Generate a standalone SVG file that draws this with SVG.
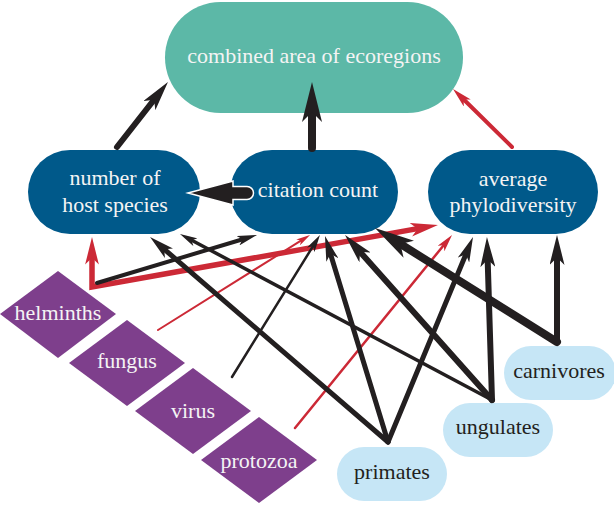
<svg xmlns="http://www.w3.org/2000/svg" width="614" height="507" viewBox="0 0 614 507">
<style>
.t{font-family:"Liberation Serif","Times New Roman",serif;font-size:22px;text-anchor:middle}
.w{fill:#f4f4f4}
.d{fill:#231f20}
.green{fill:#5cb8a7}
.blue{fill:#00598a}
.purple{fill:#7e3f8c}
.lblue{fill:#c6e6f6}
.k{fill:none;stroke:#231f20;stroke-linecap:round;stroke-linejoin:miter}
.r{fill:none;stroke:#cc2936;stroke-linecap:round;stroke-linejoin:miter}
</style>
<defs>
<marker id="ab" viewBox="0 0 10 5" refX="3" refY="2.5" markerWidth="5" markerHeight="2.5" orient="auto-start-reverse"><path d="M0,0 L10,2.5 L0,5 L2.5,2.5 Z" fill="#231f20"/></marker>
<marker id="ar" viewBox="0 0 10 5" refX="3" refY="2.5" markerWidth="5" markerHeight="2.5" orient="auto-start-reverse"><path d="M0,0 L10,2.5 L0,5 L2.5,2.5 Z" fill="#cc2936"/></marker>
<marker id="abs" viewBox="0 0 10 5" refX="3" refY="2.5" markerWidth="7" markerHeight="3.5" orient="auto-start-reverse"><path d="M0,0 L10,2.5 L0,5 L2.5,2.5 Z" fill="#231f20"/></marker>
<marker id="ars" viewBox="0 0 10 5" refX="3" refY="2.5" markerWidth="7" markerHeight="3.5" orient="auto-start-reverse"><path d="M0,0 L10,2.5 L0,5 L2.5,2.5 Z" fill="#cc2936"/></marker>
</defs>

<g id="combined">
<rect class="green" x="165" y="2" width="298" height="111" rx="55.5"/>
<text class="t w" x="314" y="63">combined area of ecoregions</text>
</g>
<g id="host-species">
<rect class="blue" x="28" y="150" width="172" height="84" rx="42"/>
<text class="t w" x="115" y="185">number of</text>
<text class="t w" x="115" y="212">host species</text>
</g>
<g id="citation-count">
<rect class="blue" x="230" y="150" width="168" height="84" rx="42"/>
<text class="t w" x="318" y="197">citation count</text>
</g>
<g id="phylodiversity">
<rect class="blue" x="428" y="150" width="170" height="84" rx="42"/>
<text class="t w" x="513" y="186">average</text>
<text class="t w" x="513" y="212">phylodiversity</text>
</g>
<g id="helminths">
<polygon class="purple" points="0,314 58,271 116,314 58,358"/>
<text class="t w" x="58" y="320">helminths</text>
</g>
<g id="fungus">
<polygon class="purple" points="69,363 127,320 185,363 127,406"/>
<text class="t w" x="127" y="368">fungus</text>
</g>
<g id="virus">
<polygon class="purple" points="135,411 193,368 251,411 193,454"/>
<text class="t w" x="193" y="418">virus</text>
</g>
<g id="protozoa">
<polygon class="purple" points="201,460 259,417 317,460 259,503"/>
<text class="t w" x="259" y="468">protozoa</text>
</g>
<g id="primates">
<rect class="lblue" x="337" y="447" width="110" height="54" rx="27"/>
<text class="t d" x="392" y="479">primates</text>
</g>
<g id="ungulates">
<rect class="lblue" x="443" y="403" width="110" height="54" rx="27"/>
<text class="t d" x="498" y="434">ungulates</text>
</g>
<g id="carnivores">
<rect class="lblue" x="504" y="346" width="112" height="54" rx="27"/>
<text class="t d" x="559" y="378">carnivores</text>
</g>

<g id="connectors">
<path class="k" d="M117,147 L155,98.5" stroke-width="6" marker-end="url(#ab)"/>
<path class="k" d="M312,148 L312,110" stroke-width="8" marker-end="url(#ab)"/>
<path class="r" d="M512,147 L463,98.8" stroke-width="4" marker-end="url(#ar)"/>
<path d="M188,193 L233,181 L233,186.5 L247,186.5 A6.5,6.5 0 0 1 247,199.5 L233,199.5 L233,205 Z" fill="#231f20" stroke="#ffffff" stroke-width="1.5"/>
<path class="r" d="M92,256.3 L92,287 L419,228.4" stroke-width="5.5" marker-start="url(#ar)" marker-end="url(#ar)"/>
<path class="k" d="M97,283 L243.6,239" stroke-width="4" marker-end="url(#ab)"/>
<path class="r" d="M158,330 L301.7,240.2" stroke-width="2" marker-end="url(#ars)"/>
<path class="k" d="M232,377 L313.5,245.4" stroke-width="2.5" marker-end="url(#abs)"/>
<path class="r" d="M295,428 L444.3,244.5" stroke-width="2.5" marker-end="url(#ars)"/>
<path class="k" d="M388,442 L163.3,248.4" stroke-width="5" marker-end="url(#ab)"/>
<path class="k" d="M492,400 L190.8,239.8" stroke-width="3.5" marker-end="url(#ab)"/>
<path class="k" d="M388,442 L330.1,252.7" stroke-width="5" marker-end="url(#ab)"/>
<path class="k" d="M492,400 L359,250.7" stroke-width="6" marker-end="url(#ab)"/>
<path class="k" d="M557,342 L398.7,242.9" stroke-width="8" marker-end="url(#ab)"/>
<path class="k" d="M388,442 L466.3,253.2" stroke-width="5" marker-end="url(#ab)"/>
<path class="k" d="M492,400 L487.6,258" stroke-width="6" marker-end="url(#ab)"/>
<path class="k" d="M557,342 L557,256" stroke-width="6" marker-end="url(#ab)"/>
</g>
</svg>
